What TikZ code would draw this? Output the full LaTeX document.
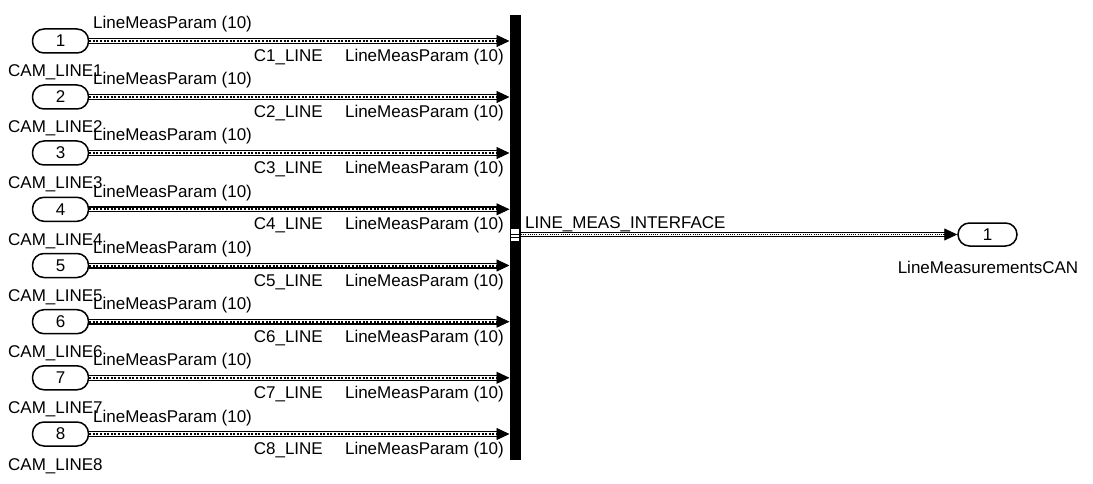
\documentclass[tikz,border=0pt]{standalone}
\usepackage{fontspec}
\setmainfont{Liberation Sans}
\usetikzlibrary{arrows.meta,calc}
\begin{document}
\begin{tikzpicture}[x=1pt,y=-1pt,
  every node/.style={font=\fontsize{17}{20}\selectfont, inner sep=0pt},
  port/.style={draw, line width=1.5pt, rounded corners=11.5pt, minimum width=56pt, minimum height=24pt, fill=white},
  buswire/.style={draw=white, line width=3.4pt, preaction={draw=black, line width=6pt}, postaction={draw=black, line width=2pt, dash pattern=on 2pt off 1.6pt}},
  outwire/.style={draw=white, line width=2.4pt, preaction={draw=black, line width=4.2pt}, postaction={draw=black, line width=1.1pt, dash pattern=on 1.1pt off 1.1pt}},
  tip/.style={-{Triangle[length=13pt,width=12pt]}, line width=0.8pt},
  lbl/.style={anchor=base west},
  lblr/.style={anchor=base east}]
\useasboundingbox (0,0) rectangle (1093,484);
% bus creator bar
\node[fill=black, minimum width=11pt, minimum height=445pt, anchor=north west] (bar) at (509.5,15) {};
\foreach \k/\y in {1/41,2/97,3/153,4/209.3,5/265.5,6/321.7,7/377.8,8/434}{
  \node[port] (in\k) at (60.5,\y) {\k};
  \node[lbl] (cam\k) at (8,\y+36) {CAM\_LINE\k};
  \coordinate (e\k) at (in\k.east -| bar.west);
  \draw[buswire, shorten >=11pt] (in\k.east) -- (e\k);
  \draw[tip] ($(e\k)+(-13,0)$) -- (e\k);
  \node[lbl] (sa\k) at (93,\y-12) {LineMeasParam (10)};
  \node[lblr] (sn\k) at (323,\y+20.5) {C\k\_LINE};
  \node[lblr] (sb\k) at (504,\y+20.5) {LineMeasParam (10)};
}
% output port
\node[port, minimum width=59pt, minimum height=23pt] (out) at (987.5,234.5) {1};
\node[anchor=base] (outl) at (988,273) {LineMeasurementsCAN};
\coordinate (bo) at (bar.east |- out.west);
\draw[outwire, shorten >=11pt] (bo) -- (out.west);
\draw[tip] ($(out.west)+(-13,0)$) -- (out.west);
\node[lbl] (busl) at (525,228) {LINE\_MEAS\_INTERFACE};
% output marker on bar
\fill[white] (511,229) rectangle (519,241);
\draw[black, line width=1pt] (511,234) -- (519,234) (511,237) -- (519,237);
\end{tikzpicture}
\end{document}
